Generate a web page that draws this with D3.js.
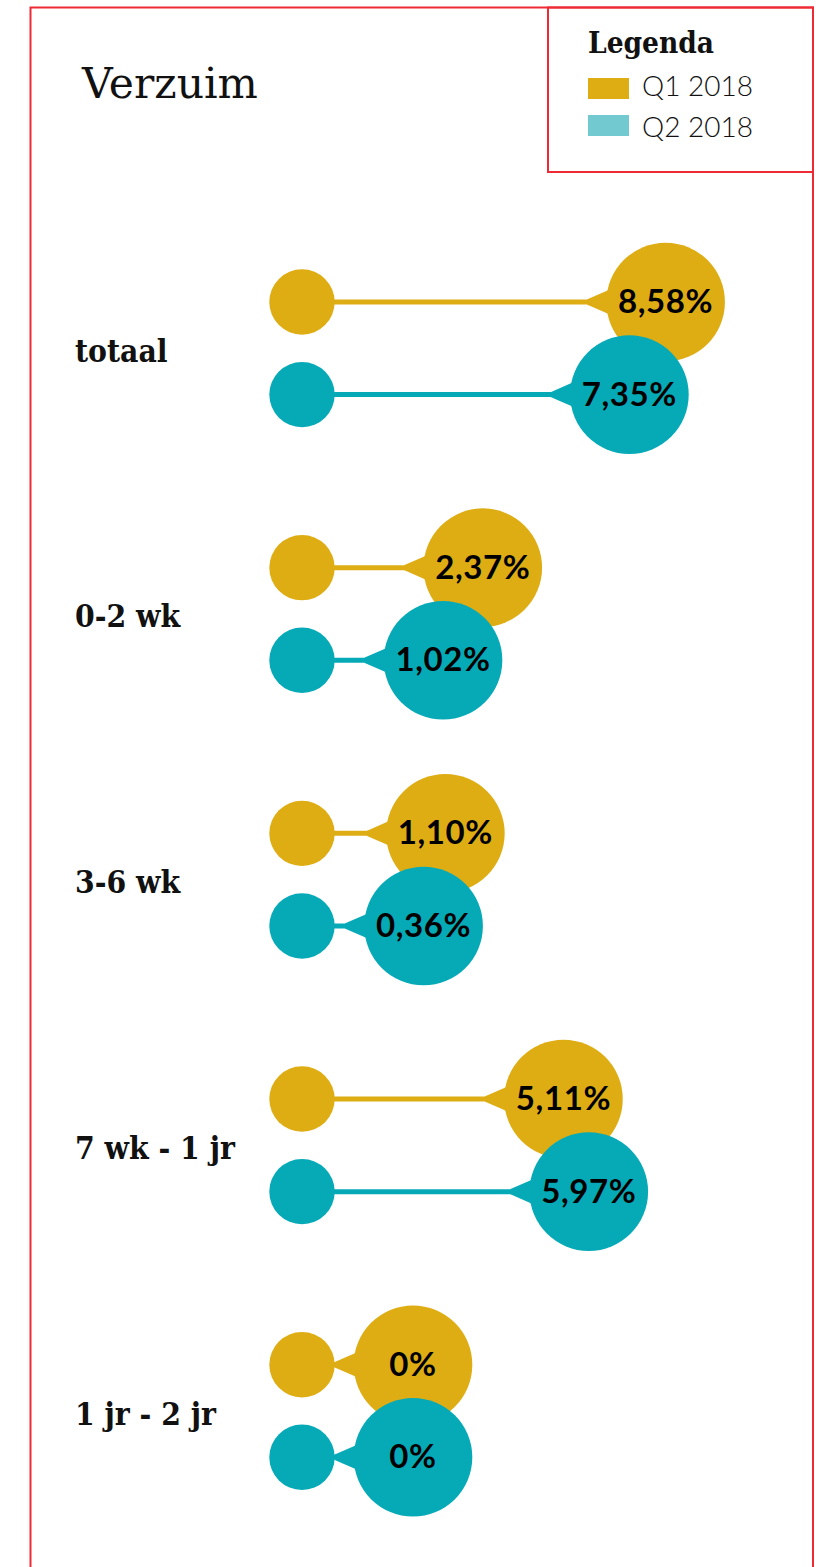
<!DOCTYPE html>
<html>
<head>
<meta charset="utf-8">
<script src="https://cdn.jsdelivr.net/npm/d3@7"></script>
<style>
  html, body { margin: 0; padding: 0; background: #fff; }
  svg { display: block; }
</style>
</head>
<body>
<div id="chart"></div>
<script>
// ---- data ----
const categories = ["totaal", "0-2 wk", "3-6 wk", "7 wk - 1 jr", "1 jr - 2 jr"];
const seriesNames = ["Q1 2018", "Q2 2018"];
const q1Values = [8.58, 2.37, 1.10, 5.11, 0];
const q2Values = [7.35, 1.02, 0.36, 5.97, 0];
const valueLabels = [["8,58%", "7,35%"], ["2,37%", "1,02%"], ["1,10%", "0,36%"], ["5,11%", "5,97%"], ["0%", "0%"]];

// ---- style ----
const W = 818, H = 1567;
const gold = "#DEAD14", teal = "#06AAB7", tealLegend = "#72C9D0", red = "#EE2A34";
const slab = "'DejaVu Serif', serif";
const sans = "Lato, 'Open Sans', sans-serif";

const svg = d3.select("#chart").append("svg").attr("width", W).attr("height", H);

// frame
svg.append("rect").attr("x", 30.5).attr("y", 7.5).attr("width", 782.5).attr("height", H + 20)
  .attr("fill", "none").attr("stroke", red).attr("stroke-width", 2);
// legend box
svg.append("rect").attr("x", 548).attr("y", 7.5).attr("width", 265).attr("height", 164.5)
  .attr("fill", "none").attr("stroke", red).attr("stroke-width", 2);

// title
svg.append("text").attr("x", 82).attr("y", 98).text("Verzuim")
  .attr("font-family", slab).attr("font-size", 42.5).attr("fill", "#111");

// legend
svg.append("text").attr("x", 588).attr("y", 53).text("Legenda")
  .attr("font-family", slab).attr("font-weight", "bold").attr("font-size", 29.5)
  .style("font-stretch", "condensed").attr("fill", "#111");
const legendColors = [gold, tealLegend];
const legendY = d3.scalePoint().domain(seriesNames).range([78, 115]);
const legendTextY = d3.scalePoint().domain(seriesNames).range([96, 137]);
const lg = svg.append("g").selectAll("g").data(seriesNames).join("g");
lg.append("rect").attr("x", 588).attr("y", d => legendY(d)).attr("width", 41).attr("height", 21)
  .attr("fill", (d, i) => legendColors[i]);
lg.append("text").attr("x", 642).attr("y", d => legendTextY(d)).text(d => d)
  .attr("font-family", sans).attr("font-weight", 300).attr("font-size", 28).attr("fill", "#111");

// scales
const x = d3.scaleLinear().domain([0, 9]).range([413, 678]);
const y = d3.scalePoint().domain(categories).range([348.3, 1411]);
const offset = d3.scalePoint().domain(seriesNames).range([-46.3, 46.3]);
const xStart = 302, rSmall = 32.7, rBig = 59.3;

const rows = [];
categories.forEach((c, i) => {
  rows.push({cat: c, s: seriesNames[0], v: q1Values[i], label: valueLabels[i][0], color: gold});
  rows.push({cat: c, s: seriesNames[1], v: q2Values[i], label: valueLabels[i][1], color: teal});
});

// category labels
svg.append("g").selectAll("text").data(categories).join("text")
  .attr("x", 75).attr("y", d => y(d) + 13.5).text(d => d)
  .attr("font-family", slab).attr("font-weight", "bold").attr("font-size", 31.5)
  .style("font-stretch", "condensed").attr("fill", "#111");

const g = svg.append("g").selectAll("g").data(rows).join("g")
  .attr("transform", d => `translate(0,${y(d.cat) + offset(d.s)})`);

g.append("line").attr("x1", xStart).attr("x2", d => x(d.v)).attr("y1", 0).attr("y2", 0)
  .attr("stroke", d => d.color).attr("stroke-width", 5);
g.append("circle").attr("cx", xStart).attr("cy", 0).attr("r", rSmall).attr("fill", d => d.color);
g.append("path").attr("fill", d => d.color).attr("d", d => {
  const tx = x(d.v) - rBig - 19;
  return `M${tx},-2.7 L${tx + 26},-14 L${tx + 26},14 L${tx},2.7 Z`;
});
g.append("circle").attr("cx", d => x(d.v)).attr("cy", 0).attr("r", rBig).attr("fill", d => d.color);
g.append("text").attr("x", d => x(d.v)).attr("y", 11).attr("text-anchor", "middle").text(d => d.label)
  .attr("font-family", sans).attr("font-weight", 700).attr("font-size", 33)
  .attr("letter-spacing", 0.6).attr("fill", "#000");
</script>
</body>
</html>
